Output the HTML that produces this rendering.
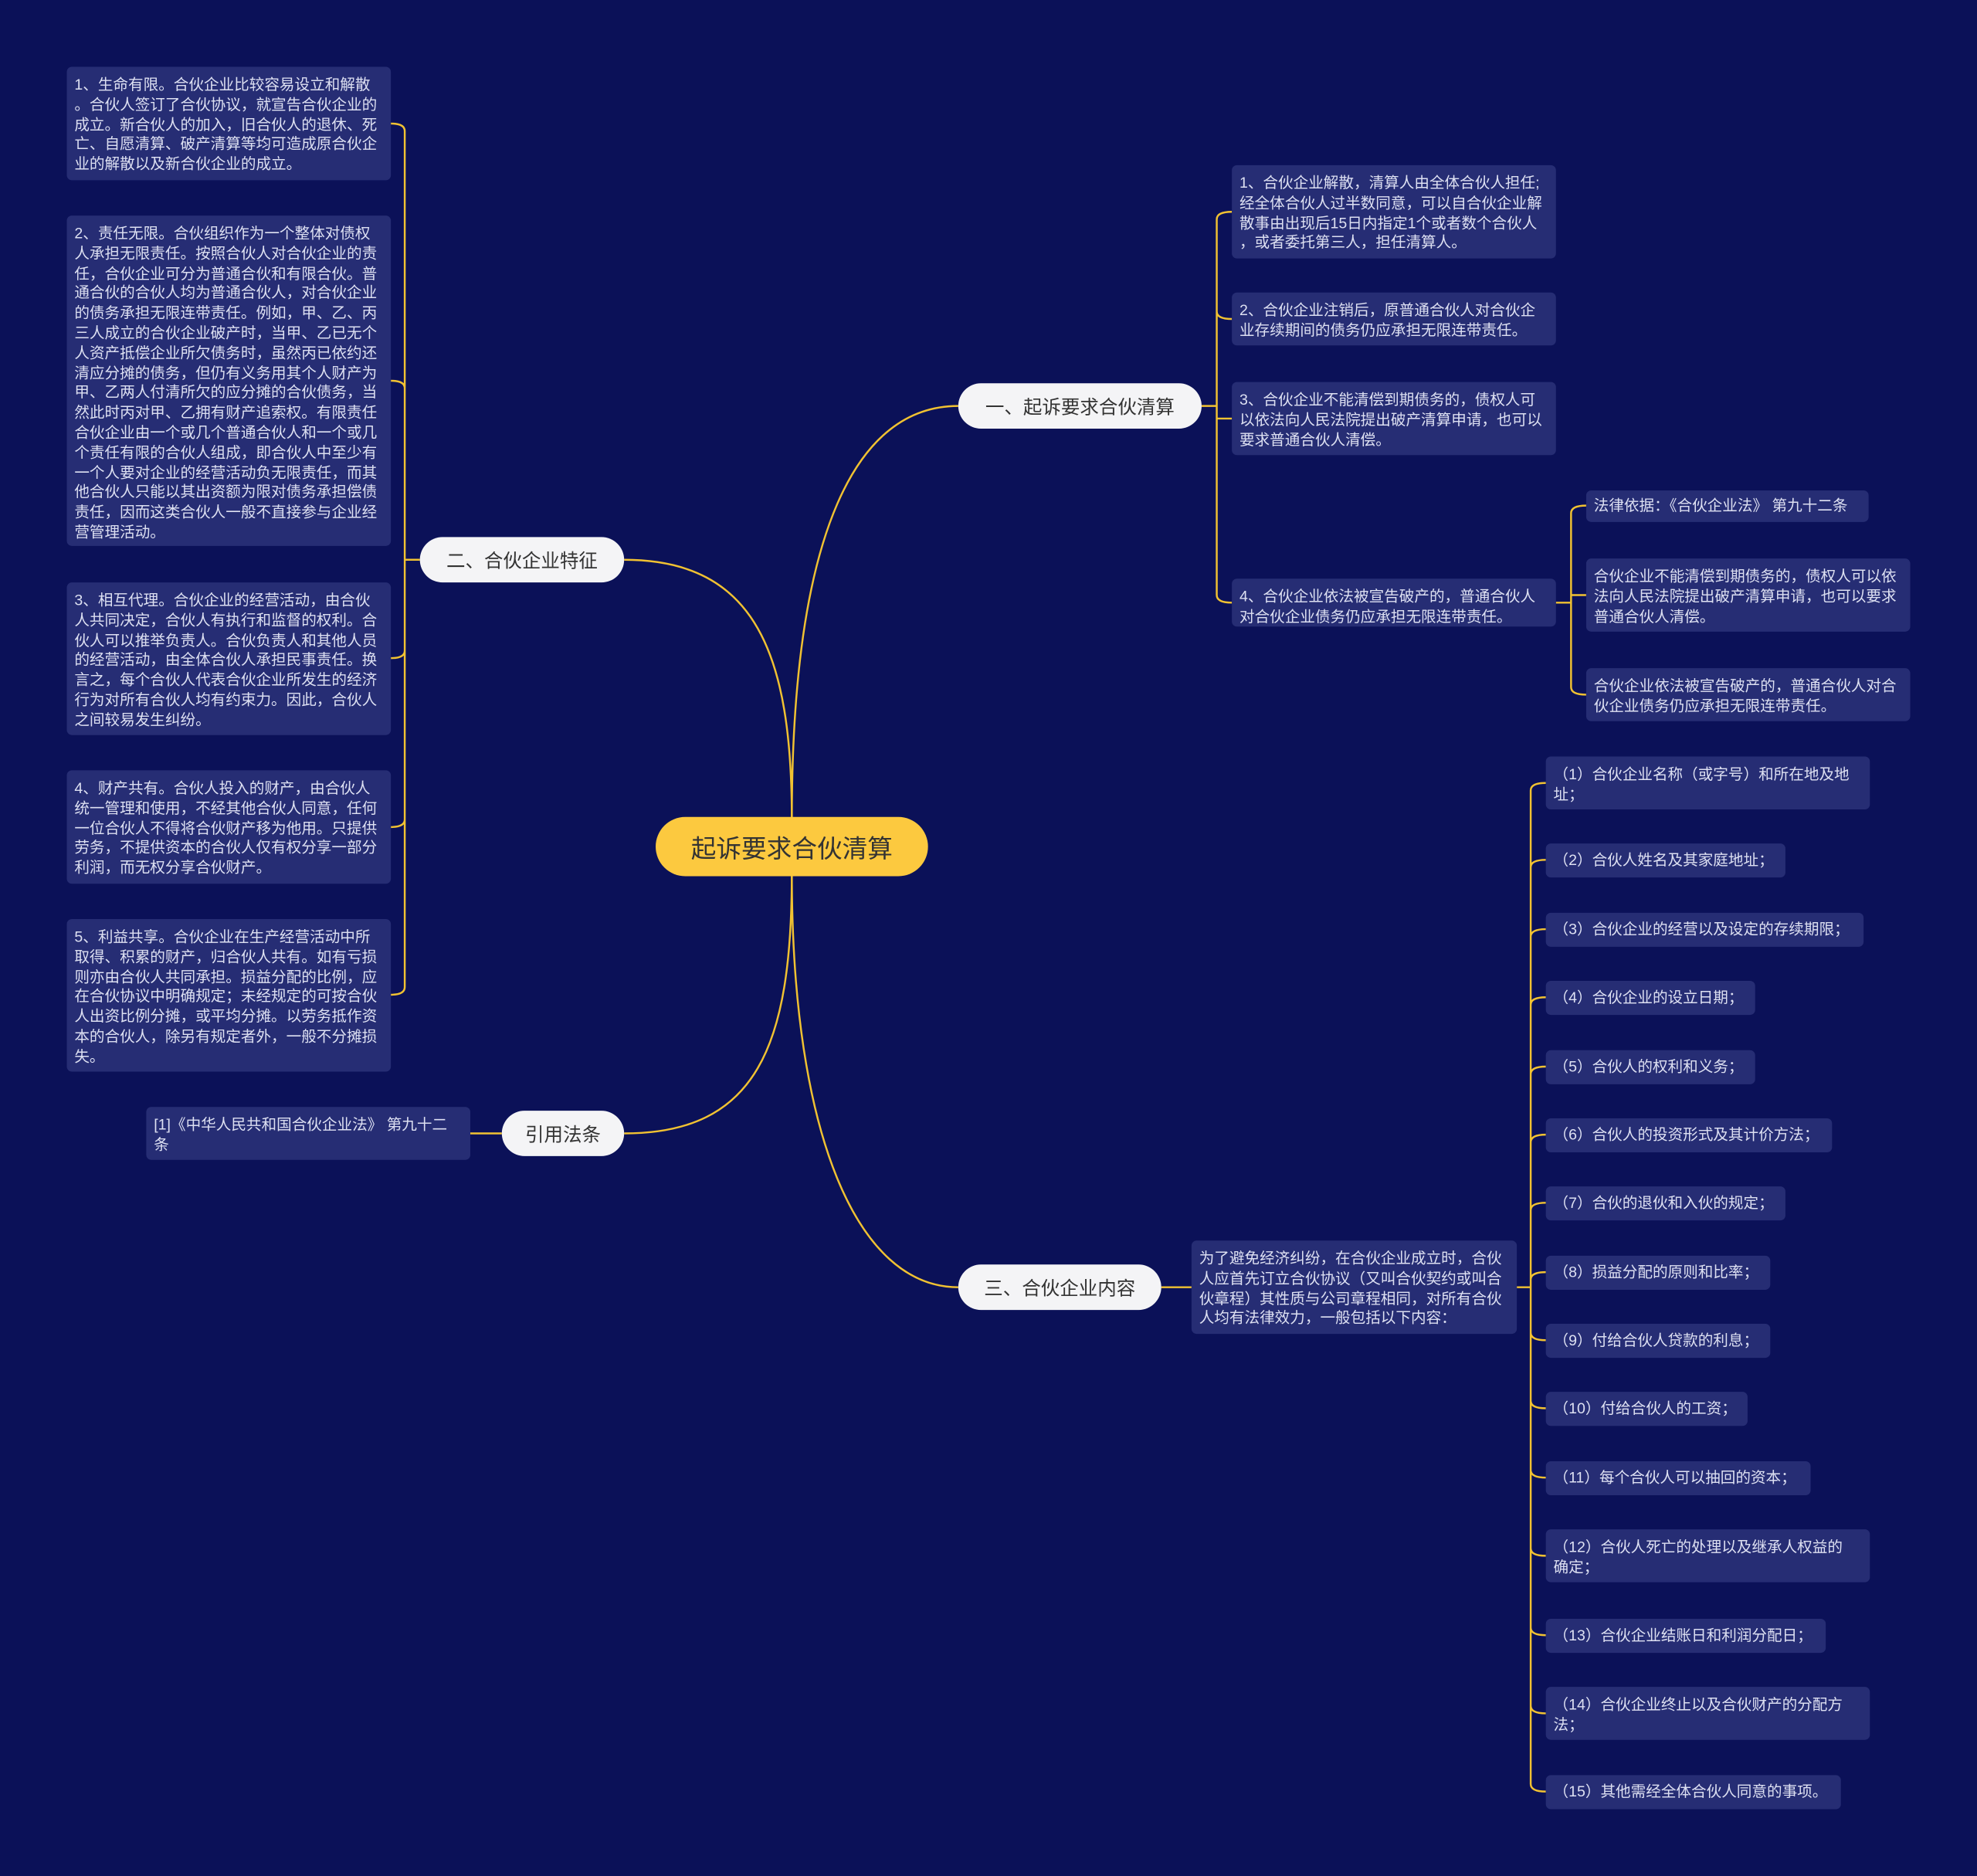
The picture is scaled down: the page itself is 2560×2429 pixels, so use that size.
<!DOCTYPE html>
<html><head><meta charset="utf-8">
<style>
html,body{margin:0;padding:0;background:#0b1158;width:2560px;height:2429px;overflow:hidden}
#w{position:absolute;left:0;top:0;width:1568px;height:1488px;transform:scale(1.6327,1.6324);transform-origin:0 0;font-family:"Liberation Sans","Noto Sans CJK SC",sans-serif}
.b{position:absolute;background:#262d74;color:#dde0f2;font-size:12px;line-height:15.8px;padding:7px 5px 4px 6px;border-radius:4px;box-sizing:border-box;word-break:break-all;line-break:anywhere}
.p{position:absolute;background:#f4f4f6;color:#333;font-size:15px;border-radius:18px;display:flex;align-items:center;justify-content:center;box-sizing:border-box}
svg{position:absolute;left:0;top:0}
path{fill:none;stroke:#f1c232;stroke-width:1.5}
</style></head><body><div id="w">
<svg width="1568" height="1488">
<path d="M628,650 C628,420 680,322 760,322"/>
<path d="M628,650 C628,520 600,444 495,444"/>
<path d="M628,693 C628,900 680,1021 760,1021"/>
<path d="M628,693 C628,830 600,899 495,899"/>
<path d="M953,322 H965 M965,322 V174 Q965,168 977,168 M965,322 V247 Q965,253 977,253 M965,322 V332 H977 M965,322 V472 Q965,478 977,478"/>
<path d="M1234,478 H1246 M1246,478 V407 Q1246,401 1258,401 M1246,478 V472 H1258 M1246,478 V545 Q1246,551 1258,551"/>
<path d="M333,444 H321 M321,444 V104 Q321,98 310,98 M321,444 V308 Q321,302 310,302 M321,444 V516 Q321,522 310,522 M321,444 V650 Q321,656 310,656 M321,444 V783 Q321,789 310,789"/>
<path d="M398,899 H373"/>
<path d="M921,1021 H945 M1203,1021 H1214"/>
<path d="M1214,1021 V627 Q1214,621 1226,621 M1214,1021 V688 Q1214,682 1226,682 M1214,1021 V743 Q1214,737 1226,737 M1214,1021 V797 Q1214,791 1226,791 M1214,1021 V852 Q1214,846 1226,846 M1214,1021 V906 Q1214,900 1226,900 M1214,1021 V960 Q1214,954 1226,954 M1214,1021 V1015 Q1214,1009 1226,1009 M1214,1021 V1057 Q1214,1063 1226,1063 M1214,1021 V1111 Q1214,1117 1226,1117 M1214,1021 V1166 Q1214,1172 1226,1172 M1214,1021 V1228 Q1214,1234 1226,1234 M1214,1021 V1291 Q1214,1297 1226,1297 M1214,1021 V1353 Q1214,1359 1226,1359 M1214,1021 V1415 Q1214,1421 1226,1421"/>
</svg>

<div class="p" style="left:520px;top:648px;width:216px;height:47px;background:#fcc93f;border-radius:24px;font-size:20px;color:#333">起诉要求合伙清算</div>
<div class="p" style="left:760px;top:304px;width:193px;height:36px">一、起诉要求合伙清算</div>
<div class="p" style="left:333px;top:426px;width:162px;height:36px">二、合伙企业特征</div>
<div class="p" style="left:398px;top:881px;width:97px;height:36px">引用法条</div>
<div class="p" style="left:760px;top:1003px;width:161px;height:36px">三、合伙企业内容</div>

<div class="b" style="left:977px;top:131px;width:257px;height:74px">1、合伙企业解散，清算人由全体合伙人担任;经全体合伙人过半数同意，可以自合伙企业解散事由出现后15日内指定1个或者数个合伙人，或者委托第三人，担任清算人。</div>
<div class="b" style="left:977px;top:232px;width:257px;height:42px">2、合伙企业注销后，原普通合伙人对合伙企业存续期间的债务仍应承担无限连带责任。</div>
<div class="b" style="left:977px;top:303px;width:257px;height:58px">3、合伙企业不能清偿到期债务的，债权人可以依法向人民法院提出破产清算申请，也可以要求普通合伙人清偿。</div>
<div class="b" style="left:977px;top:459px;width:257px;height:38px">4、合伙企业依法被宣告破产的，普通合伙人对合伙企业债务仍应承担无限连带责任。</div>
<div class="b" style="left:1258px;top:389px;width:224px;height:25px;padding-top:5px">法律依据：《合伙企业法》 第九十二条</div>
<div class="b" style="left:1258px;top:443px;width:257px;height:58px">合伙企业不能清偿到期债务的，债权人可以依法向人民法院提出破产清算申请，也可以要求普通合伙人清偿。</div>
<div class="b" style="left:1258px;top:530px;width:257px;height:42px">合伙企业依法被宣告破产的，普通合伙人对合伙企业债务仍应承担无限连带责任。</div>

<div class="b" style="left:53px;top:53px;width:257px;height:90px">1、生命有限。合伙企业比较容易设立和解散。合伙人签订了合伙协议，就宣告合伙企业的成立。新合伙人的加入，旧合伙人的退休、死亡、自愿清算、破产清算等均可造成原合伙企业的解散以及新合伙企业的成立。</div>
<div class="b" style="left:53px;top:171px;width:257px;height:262px">2、责任无限。合伙组织作为一个整体对债权人承担无限责任。按照合伙人对合伙企业的责任，合伙企业可分为普通合伙和有限合伙。普通合伙的合伙人均为普通合伙人，对合伙企业的债务承担无限连带责任。例如，甲、乙、丙三人成立的合伙企业破产时，当甲、乙已无个人资产抵偿企业所欠债务时，虽然丙已依约还清应分摊的债务，但仍有义务用其个人财产为甲、乙两人付清所欠的应分摊的合伙债务，当然此时丙对甲、乙拥有财产追索权。有限责任合伙企业由一个或几个普通合伙人和一个或几个责任有限的合伙人组成，即合伙人中至少有一个人要对企业的经营活动负无限责任，而其他合伙人只能以其出资额为限对债务承担偿债责任，因而这类合伙人一般不直接参与企业经营管理活动。</div>
<div class="b" style="left:53px;top:462px;width:257px;height:121px">3、相互代理。合伙企业的经营活动，由合伙人共同决定，合伙人有执行和监督的权利。合伙人可以推举负责人。合伙负责人和其他人员的经营活动，由全体合伙人承担民事责任。换言之，每个合伙人代表合伙企业所发生的经济行为对所有合伙人均有约束力。因此，合伙人之间较易发生纠纷。</div>
<div class="b" style="left:53px;top:611px;width:257px;height:90px">4、财产共有。合伙人投入的财产，由合伙人统一管理和使用，不经其他合伙人同意，任何一位合伙人不得将合伙财产移为他用。只提供劳务，不提供资本的合伙人仅有权分享一部分利润，而无权分享合伙财产。</div>
<div class="b" style="left:53px;top:729px;width:257px;height:121px">5、利益共享。合伙企业在生产经营活动中所取得、积累的财产，归合伙人共有。如有亏损则亦由合伙人共同承担。损益分配的比例，应在合伙协议中明确规定；未经规定的可按合伙人出资比例分摊，或平均分摊。以劳务抵作资本的合伙人，除另有规定者外，一般不分摊损失。</div>

<div class="b" style="left:116px;top:878px;width:257px;height:42px;padding-right:12px">[1]《中华人民共和国合伙企业法》 第九十二条</div>

<div class="b" style="left:945px;top:984px;width:258px;height:74px">为了避免经济纠纷，在合伙企业成立时，合伙人应首先订立合伙协议（又叫合伙契约或叫合伙章程）其性质与公司章程相同，对所有合伙人均有法律效力，一般包括以下内容：</div>

<div class="b" style="left:1226px;top:600px;width:257px;height:42px">（1）合伙企业名称（或字号）和所在地及地址；</div>
<div class="b" style="left:1226px;top:669px;width:190px;height:27px;line-height:19px;padding-top:4px">（2）合伙人姓名及其家庭地址；</div>
<div class="b" style="left:1226px;top:724px;width:252px;height:27px;line-height:19px;padding-top:4px">（3）合伙企业的经营以及设定的存续期限；</div>
<div class="b" style="left:1226px;top:778px;width:166px;height:27px;line-height:19px;padding-top:4px">（4）合伙企业的设立日期；</div>
<div class="b" style="left:1226px;top:833px;width:166px;height:27px;line-height:19px;padding-top:4px">（5）合伙人的权利和义务；</div>
<div class="b" style="left:1226px;top:887px;width:227px;height:27px;line-height:19px;padding-top:4px">（6）合伙人的投资形式及其计价方法；</div>
<div class="b" style="left:1226px;top:941px;width:190px;height:27px;line-height:19px;padding-top:4px">（7）合伙的退伙和入伙的规定；</div>
<div class="b" style="left:1226px;top:996px;width:178px;height:27px;line-height:19px;padding-top:4px">（8）损益分配的原则和比率；</div>
<div class="b" style="left:1226px;top:1050px;width:178px;height:27px;line-height:19px;padding-top:4px">（9）付给合伙人贷款的利息；</div>
<div class="b" style="left:1226px;top:1104px;width:160px;height:27px;line-height:19px;padding-top:4px">（10）付给合伙人的工资；</div>
<div class="b" style="left:1226px;top:1159px;width:210px;height:27px;line-height:19px;padding-top:4px">（11）每个合伙人可以抽回的资本；</div>
<div class="b" style="left:1226px;top:1213px;width:257px;height:42px;padding-right:18px">（12）合伙人死亡的处理以及继承人权益的确定；</div>
<div class="b" style="left:1226px;top:1284px;width:222px;height:27px;line-height:19px;padding-top:4px">（13）合伙企业结账日和利润分配日；</div>
<div class="b" style="left:1226px;top:1338px;width:257px;height:42px;padding-right:18px">（14）合伙企业终止以及合伙财产的分配方法；</div>
<div class="b" style="left:1226px;top:1408px;width:234px;height:27px;line-height:19px;padding-top:4px">（15）其他需经全体合伙人同意的事项。</div>
</div></body></html>
